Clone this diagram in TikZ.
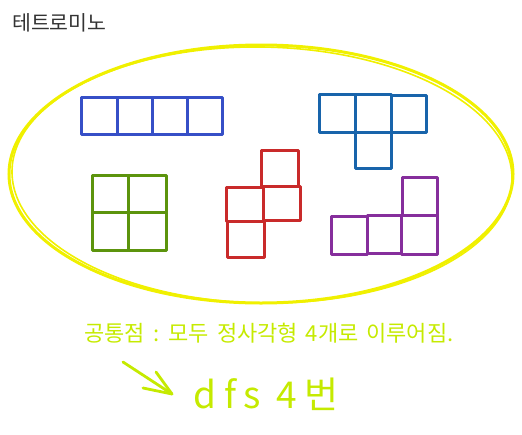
\documentclass[tikz,border=0pt]{standalone}
\usepackage{fontspec}
\setmainfont{Noto Sans CJK KR}
\newfontfamily\notefont[WordSpace=1.6]{Noto Sans CJK KR}
\newfontfamily\bigfont[LetterSpace=20]{Noto Sans CJK KR}
\definecolor{cI}{HTML}{364FC7}
\definecolor{cT}{HTML}{1864AB}
\definecolor{cO}{HTML}{5C940D}
\definecolor{cS}{HTML}{C92A2A}
\definecolor{cL}{HTML}{862E9C}
\definecolor{ring}{HTML}{F0F000}
\definecolor{lime}{HTML}{C5EA00}
\tikzset{
  cell/.style={line width=3pt, line cap=round, line join=round},
  ringline/.style={ring, line width=3pt},
  ringthin/.style={ring, line width=1.6pt},
  note/.style={text=lime, inner sep=0pt, font=\notefont\fontsize{22}{24}\selectfont},
  big/.style={text=lime, inner sep=0pt, font=\bigfont\fontsize{37}{40}\selectfont},
  title/.style={text=black!80, inner sep=0pt, font=\fontsize{20.5}{23}\selectfont},
  sketch/.style={lime, line width=2.8pt, line cap=round, line join=round}
}
\begin{document}
\begin{tikzpicture}[x=1pt,y=-1pt]
\useasboundingbox (0,0) rectangle (522,434);
% title
\node[title, anchor=west] (title) at (12,23) {테트로미노};
% ring
\draw[ringline] (261,174) ellipse [x radius=252, y radius=129];
\draw[ringthin, rotate around={-1.0:(261,174)}] (262,175) ellipse [x radius=250, y radius=128];
% I tetromino
\begin{scope}[cI, cell]
\draw (81,97) rectangle (117.5,134);
\draw (117.5,97) rectangle (152,134);
\draw (152,97) rectangle (187.5,134);
\draw (187.5,97) rectangle (222,134);
\end{scope}
% T tetromino
\begin{scope}[cT, cell]
\draw (319,94) rectangle (355,132);
\draw (355,94) rectangle (391,132);
\draw (391,95) rectangle (426,132);
\draw (355,132) rectangle (391,168);
\end{scope}
% O tetromino
\begin{scope}[cO, cell]
\draw (92,175) rectangle (128.5,212);
\draw (128.5,175) rectangle (166,212);
\draw (92,212) rectangle (128.5,250);
\draw (128.5,212) rectangle (166,250);
\end{scope}
% S tetromino
\begin{scope}[cS, cell]
\draw (261,150) rectangle (298,186);
\draw (226,187) rectangle (263,221);
\draw (263,186) rectangle (300,220);
\draw (227,221) rectangle (264,257);
\end{scope}
% L tetromino
\begin{scope}[cL, cell]
\draw (402,177) rectangle (437,215);
\draw (331,216) rectangle (367,254);
\draw (367,215) rectangle (401,253);
\draw (401,215) rectangle (437,254);
\end{scope}
% notes
\node[note] (common) at (269,333) {공통점 : 모두 정사각형 4개로 이루어짐.};
\node[big] (dfs) at (266,394) {dfs 4번};
% arrow
\coordinate (astart) at (123,362);
\coordinate (atip) at (172,394);
\coordinate (h1) at (143,388);
\coordinate (h2) at (156,372);
\draw[sketch] (astart) -- (atip);
\draw[sketch] (h1) -- (atip) -- (h2);
\end{tikzpicture}
\end{document}
